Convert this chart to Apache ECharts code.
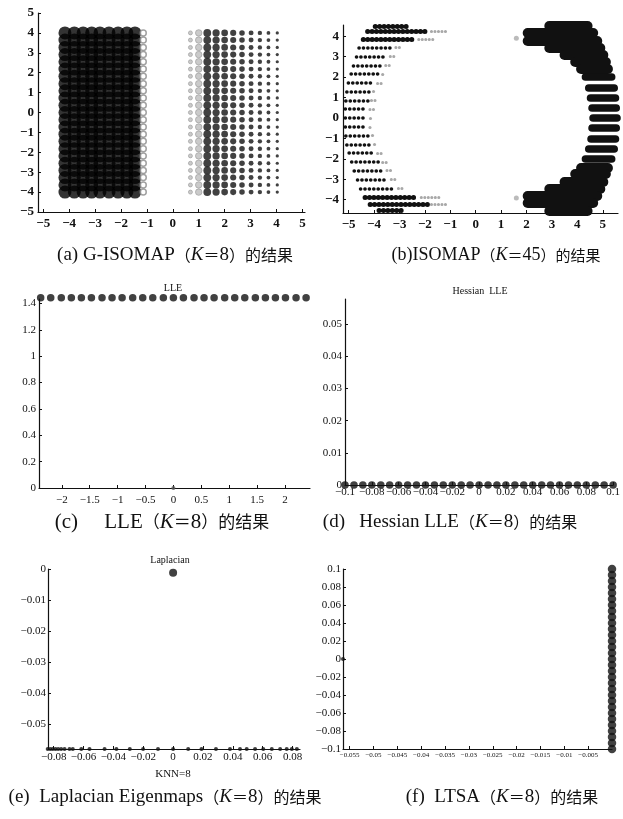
<!DOCTYPE html>
<html>
<head>
<meta charset="utf-8">
<script src="https://cdn.jsdelivr.net/npm/echarts@6/dist/echarts.min.js"></script>
<style>
html, body { margin: 0; padding: 0; background: #fff; }
#panel { width: 623px; height: 819px; }
</style>
</head>
<body>
<div id="panel"></div>
<script>
// ---- (a) G-ISOMAP: grid of points, columns x rows
var aRows = [4, 3.64, 3.27, 2.91, 2.55, 2.18, 1.82, 1.45, 1.09, 0.73, 0.36, 0,
             -0.36, -0.73, -1.09, -1.45, -1.82, -2.18, -2.55, -2.91, -3.27, -3.64, -4];
var aLeftCols = [-4.16, -3.8, -3.46, -3.13, -2.81, -2.46, -2.11, -1.77, -1.46];
var aLeftGrey = [-1.14];
var aRightGrey = [0.68, 1.0];
var aRightCols = [1.33, 1.67, 2.0, 2.33, 2.67, 3.02, 3.36, 3.69, 4.03];

// ---- (b) ISOMAP: left arc rows [y, darkFrom, darkTo, greyTo]
var bArcRows = [
  [4.5, -4.05, -2.6, -2.6], [4.22, -4.35, -1.8, -1.1], [3.87, -4.52, -2.3, -1.5],
  [3.44, -4.66, -3.2, -2.9], [3.01, -4.76, -3.42, -3.15], [2.58, -4.88, -3.6, -3.3],
  [2.15, -4.97, -3.72, -3.5], [1.72, -5.08, -3.92, -3.66], [1.29, -5.14, -4.08, -3.84],
  [0.86, -5.18, -4.16, -3.9], [0.43, -5.2, -4.22, -3.95], [0, -5.2, -4.2, -3.95],
  [-0.43, -5.2, -4.22, -3.97], [-0.86, -5.18, -4.12, -3.9], [-1.29, -5.14, -4.04, -3.82],
  [-1.72, -5.05, -3.92, -3.66], [-2.15, -4.95, -3.72, -3.45], [-2.58, -4.85, -3.55, -3.25],
  [-3.01, -4.72, -3.38, -3.05], [-3.44, -4.6, -3.1, -2.8], [-3.87, -4.45, -2.2, -1.3],
  [-4.22, -4.25, -1.8, -1.0], [-4.5, -3.9, -2.7, -2.7]
];
// right crescent rows [y, from, to]
var bCrescentRows = [
  [4.52, 2.7, 4.6], [4.15, 1.85, 4.82], [3.8, 1.85, 4.98], [3.45, 2.7, 5.1],
  [3.1, 3.3, 5.22], [2.75, 3.72, 5.32], [2.42, 3.95, 5.4],
  [2.0, 4.17, 5.5], [1.5, 4.3, 5.6], [1.0, 4.37, 5.65], [0.5, 4.43, 5.68],
  [0, 4.47, 5.71], [-0.5, 4.43, 5.68], [-1.0, 4.39, 5.65], [-1.5, 4.3, 5.6], [-2.0, 4.17, 5.5],
  [-2.42, 3.95, 5.4], [-2.75, 3.72, 5.32], [-3.1, 3.3, 5.22], [-3.45, 2.7, 5.1],
  [-3.8, 1.85, 4.98], [-4.15, 1.85, 4.82], [-4.52, 2.7, 4.6]
];
var bTips = [[1.6, 3.9], [1.6, -3.92]];

// ---- (c) LLE
var cX = [-2.38, -2.2, -2.01, -1.83, -1.65, -1.47, -1.28, -1.1, -0.92, -0.73, -0.55, -0.37, -0.18,
          0, 0.18, 0.37, 0.55, 0.73, 0.92, 1.1, 1.28, 1.47, 1.65, 1.83, 2.01, 2.2, 2.38];
var cY = 1.444;
var cExtra = [[0, 0]];

// ---- (d) Hessian LLE
var dX = [-0.1, -0.0933, -0.0867, -0.08, -0.0733, -0.0667, -0.06, -0.0533, -0.0467, -0.04, -0.0333,
          -0.0267, -0.02, -0.0133, -0.0067, 0, 0.0067, 0.0133, 0.02, 0.0267, 0.0333, 0.04, 0.0467,
          0.0533, 0.06, 0.0667, 0.0733, 0.08, 0.0867, 0.0933, 0.1];
var dY = 0;

// ---- (e) Laplacian Eigenmaps
var eX = [-0.084, -0.0823, -0.0806, -0.0788, -0.077, -0.075, -0.0727, -0.0694, -0.0672, -0.0615,
          -0.056, -0.0459, -0.038, -0.029, -0.0201, -0.0101, 0, 0.0101, 0.019, 0.0287, 0.0381,
          0.0448, 0.0493, 0.0549, 0.0604, 0.0661, 0.0717, 0.0761, 0.0795, 0.0829];
var eY = -0.058;
var eBig = [[0, -0.0012]];

// ---- (f) LTSA
var fY = [0.1, 0.0933, 0.0867, 0.08, 0.0733, 0.0667, 0.06, 0.0533, 0.0467, 0.04, 0.0333, 0.0267,
          0.02, 0.0133, 0.0067, 0, -0.0067, -0.0133, -0.02, -0.0267, -0.0333, -0.04, -0.0467,
          -0.0533, -0.06, -0.0667, -0.0733, -0.08, -0.0867, -0.0933, -0.1];
var fX = 0;
var fExtra = [[-0.0564, 0]];

// tick values
var aTicks = [-5, -4, -3, -2, -1, 0, 1, 2, 3, 4, 5];
var bXTicks = [-5, -4, -3, -2, -1, 0, 1, 2, 3, 4, 5];
var bYTicks = [-4, -3, -2, -1, 0, 1, 2, 3, 4];
var cXTicks = [-2, -1.5, -1, -0.5, 0, 0.5, 1, 1.5, 2];
var cYTicks = [0, 0.2, 0.4, 0.6, 0.8, 1, 1.2, 1.4];
var dXTicks = [-0.1, -0.08, -0.06, -0.04, -0.02, 0, 0.02, 0.04, 0.06, 0.08, 0.1];
var dYTicks = [0, 0.01, 0.02, 0.03, 0.04, 0.05];
var eXTicks = [-0.08, -0.06, -0.04, -0.02, 0, 0.02, 0.04, 0.06, 0.08];
var eYTicks = [-0.05, -0.04, -0.03, -0.02, -0.01, 0];
var fXTicks = [-0.055, -0.05, -0.045, -0.04, -0.035, -0.03, -0.025, -0.02, -0.015, -0.01, -0.005];
var fYTicks = [-0.1, -0.08, -0.06, -0.04, -0.02, 0, 0.02, 0.04, 0.06, 0.08, 0.1];

var SERIF = '"Liberation Serif", "DejaVu Serif", serif';
var CJK = '"Noto Sans CJK SC", sans-serif';
var INK = '#111';

function fmt(v) { return v < 0 ? '\u2212' + String(-v) : String(v); }

function cross(xs, ys) {
  var out = [];
  xs.forEach(function (x) { ys.forEach(function (y) { out.push([x, y]); }); });
  return out;
}

function mkAxis(pos, gi, min, max, ticks, size, bold, margin) {
  return {
    type: 'value', gridIndex: gi, min: min, max: max, position: pos,
    axisLine: { show: true, onZero: false, lineStyle: { color: INK, width: 1.2 } },
    axisTick: { show: true, inside: true, length: 3, customValues: ticks, lineStyle: { color: INK } },
    axisLabel: {
      show: true, customValues: ticks, margin: margin, color: INK,
      fontFamily: SERIF, fontSize: size, fontWeight: bold ? 'bold' : 'normal', formatter: fmt
    },
    splitLine: { show: false }
  };
}

var grids = [
  { left: 38, top: 13, width: 267, height: 199 },
  { left: 343, top: 25, width: 275, height: 188 },
  { left: 39, top: 299, width: 271, height: 189 },
  { left: 345, top: 299, width: 275, height: 186 },
  { left: 48, top: 569, width: 252, height: 180 },
  { left: 343, top: 569, width: 269, height: 180 }
];

var xAxes = [
  mkAxis('bottom', 0, -5.2, 5.1, aTicks, 13, true, 5),
  mkAxis('bottom', 1, -5.22, 5.6, bXTicks, 13, true, 5),
  mkAxis('bottom', 2, -2.41, 2.45, cXTicks, 11, false, 7),
  mkAxis('bottom', 3, -0.1, 0.1, dXTicks, 11, false, 2),
  mkAxis('bottom', 4, -0.0838, 0.085, eXTicks, 11, false, 3),
  mkAxis('bottom', 5, -0.0564, 0, fXTicks, 7, false, 3)
];
var yAxes = [
  mkAxis('left', 0, -5, 5, aTicks, 13, true, 4),
  mkAxis('left', 1, -4.65, 4.55, bYTicks, 13, true, 4),
  mkAxis('left', 2, 0, 1.434, cYTicks, 11, false, 3),
  mkAxis('left', 3, 0, 0.0578, dYTicks, 11, false, 3),
  mkAxis('left', 4, -0.058, 0, eYTicks, 11, false, 2),
  mkAxis('left', 5, -0.1, 0.1, fYTicks, 11, false, 2)
];

function scatter(gi, data, size, style, symbol) {
  return {
    type: 'scatter', xAxisIndex: gi, yAxisIndex: gi, data: data, symbol: symbol || 'circle',
    symbolSize: size, itemStyle: style, clip: false, silent: true
  };
}

var PXB = 25.4; // px per unit on (b) x axis, used to pull round caps back inside
function rowLines(rows, from, to, widthOf) {
  var out = [];
  rows.forEach(function (r) {
    var w = widthOf(r);
    var s = w / 2 / PXB;
    if (r[to] - r[from] <= 2 * s) return;
    out.push({ coords: [[r[from] + s, r[0]], [r[to] - s, r[0]]], lineStyle: { width: w } });
  });
  return out;
}

var series = [
  // (a)
  scatter(0, cross(aLeftCols, aRows), 13, { color: '#000' }),
  scatter(0, cross(aLeftGrey, aRows), 6, { color: '#fff', borderColor: '#8a8a8a', borderWidth: 1.5 }),
  scatter(0, cross(aRightGrey, aRows), function (v) { return v[0] < 0.85 ? 4 : 6.5; },
          { color: '#bdbdbd', borderColor: '#999', borderWidth: 0.8 }),
  scatter(0, cross(aRightCols, aRows), function (v) { return 7.8 - (v[0] - 1.33) * 1.7; }, { color: INK }),
  // (b) left arc, dotted rows
  {
    type: 'lines', coordinateSystem: 'cartesian2d', xAxisIndex: 1, yAxisIndex: 1, clip: false, silent: true,
    data: rowLines(bArcRows, 1, 2, function (r) { return Math.abs(r[0]) > 3.7 ? 5 : 3.6; }),
    lineStyle: { color: INK, opacity: 1, cap: 'round', type: [0.1, 4.3], curveness: 0 }
  },
  {
    type: 'lines', coordinateSystem: 'cartesian2d', xAxisIndex: 1, yAxisIndex: 1, clip: false, silent: true,
    data: rowLines(bArcRows, 2, 3, function () { return 3; }),
    lineStyle: { color: '#a8a8a8', opacity: 1, cap: 'round', type: [0.1, 3.4], curveness: 0 }
  },
  // (b) right crescent, thick rows
  {
    type: 'lines', coordinateSystem: 'cartesian2d', xAxisIndex: 1, yAxisIndex: 1, clip: false, silent: true,
    data: rowLines(bCrescentRows, 1, 2, function (r) { return Math.abs(r[0]) > 2.2 ? 10 : 7.6; }),
    lineStyle: { color: INK, opacity: 1, cap: 'round', curveness: 0 }
  },
  scatter(1, bTips, 5, { color: '#aaa' }),
  // (c)
  scatter(2, cX.map(function (x) { return [x, cY]; }), 7.5, { color: INK }),
  scatter(2, cExtra, 4, { color: '#555' }),
  // (d)
  scatter(3, dX.map(function (x) { return [x, dY]; }), 7.5, { color: INK }),
  // (e)
  scatter(4, eX.map(function (x) { return [x, eY]; }), 4, { color: INK }),
  scatter(4, eBig, 8, { color: INK }),
  // (f)
  scatter(5, fY.map(function (y) { return [fX, y]; }), 8.5, { color: INK }),
  scatter(5, fExtra, 4, { color: INK })
];

function label(x, y, text, size, rich) {
  return {
    type: 'text', x: x, y: y, silent: true,
    style: {
      text: text, fill: INK, font: size + 'px ' + SERIF,
      align: 'center', verticalAlign: 'middle', textAlign: 'center', textVerticalAlign: 'middle',
      rich: rich || {}
    }
  };
}
function capRich(lat, cjk) {
  return {
    k: { fontStyle: 'italic', fontSize: lat, fontFamily: SERIF, fill: INK },
    c: { fontSize: cjk, fontFamily: CJK, fill: INK }
  };
}
function caption(head, k) {
  return head + '{c|\uFF08}{k|K}{c|\uFF1D}' + k + '{c|\uFF09的结果}';
}

var texts = [
  label(175, 255, caption('(a) G-ISOMAP', '8'), 19, capRich(19, 16)),
  label(496, 255, caption('(b)ISOMAP', '45'), 18, capRich(18, 15)),
  label(162, 522, caption('(c)     LLE', '8'), 21, capRich(21, 17)),
  label(450, 522, caption('(d)   Hessian LLE', '8'), 19, capRich(19, 16)),
  label(165, 797, caption('(e)  Laplacian Eigenmaps', '8'), 19, capRich(19, 16)),
  label(502, 797, caption('(f)  LTSA', '8'), 19, capRich(19, 16)),
  label(173, 288, 'LLE', 10),
  label(480, 291, 'Hessian  LLE', 10),
  label(170, 560, 'Laplacian', 10),
  label(173, 774, 'KNN=8', 11)
];

var myChart = echarts.init(document.getElementById('panel'));
myChart.setOption({
  backgroundColor: '#fff',
  animation: false,
  grid: grids,
  xAxis: xAxes,
  yAxis: yAxes,
  series: series,
  graphic: texts
});
</script>
</body>
</html>
